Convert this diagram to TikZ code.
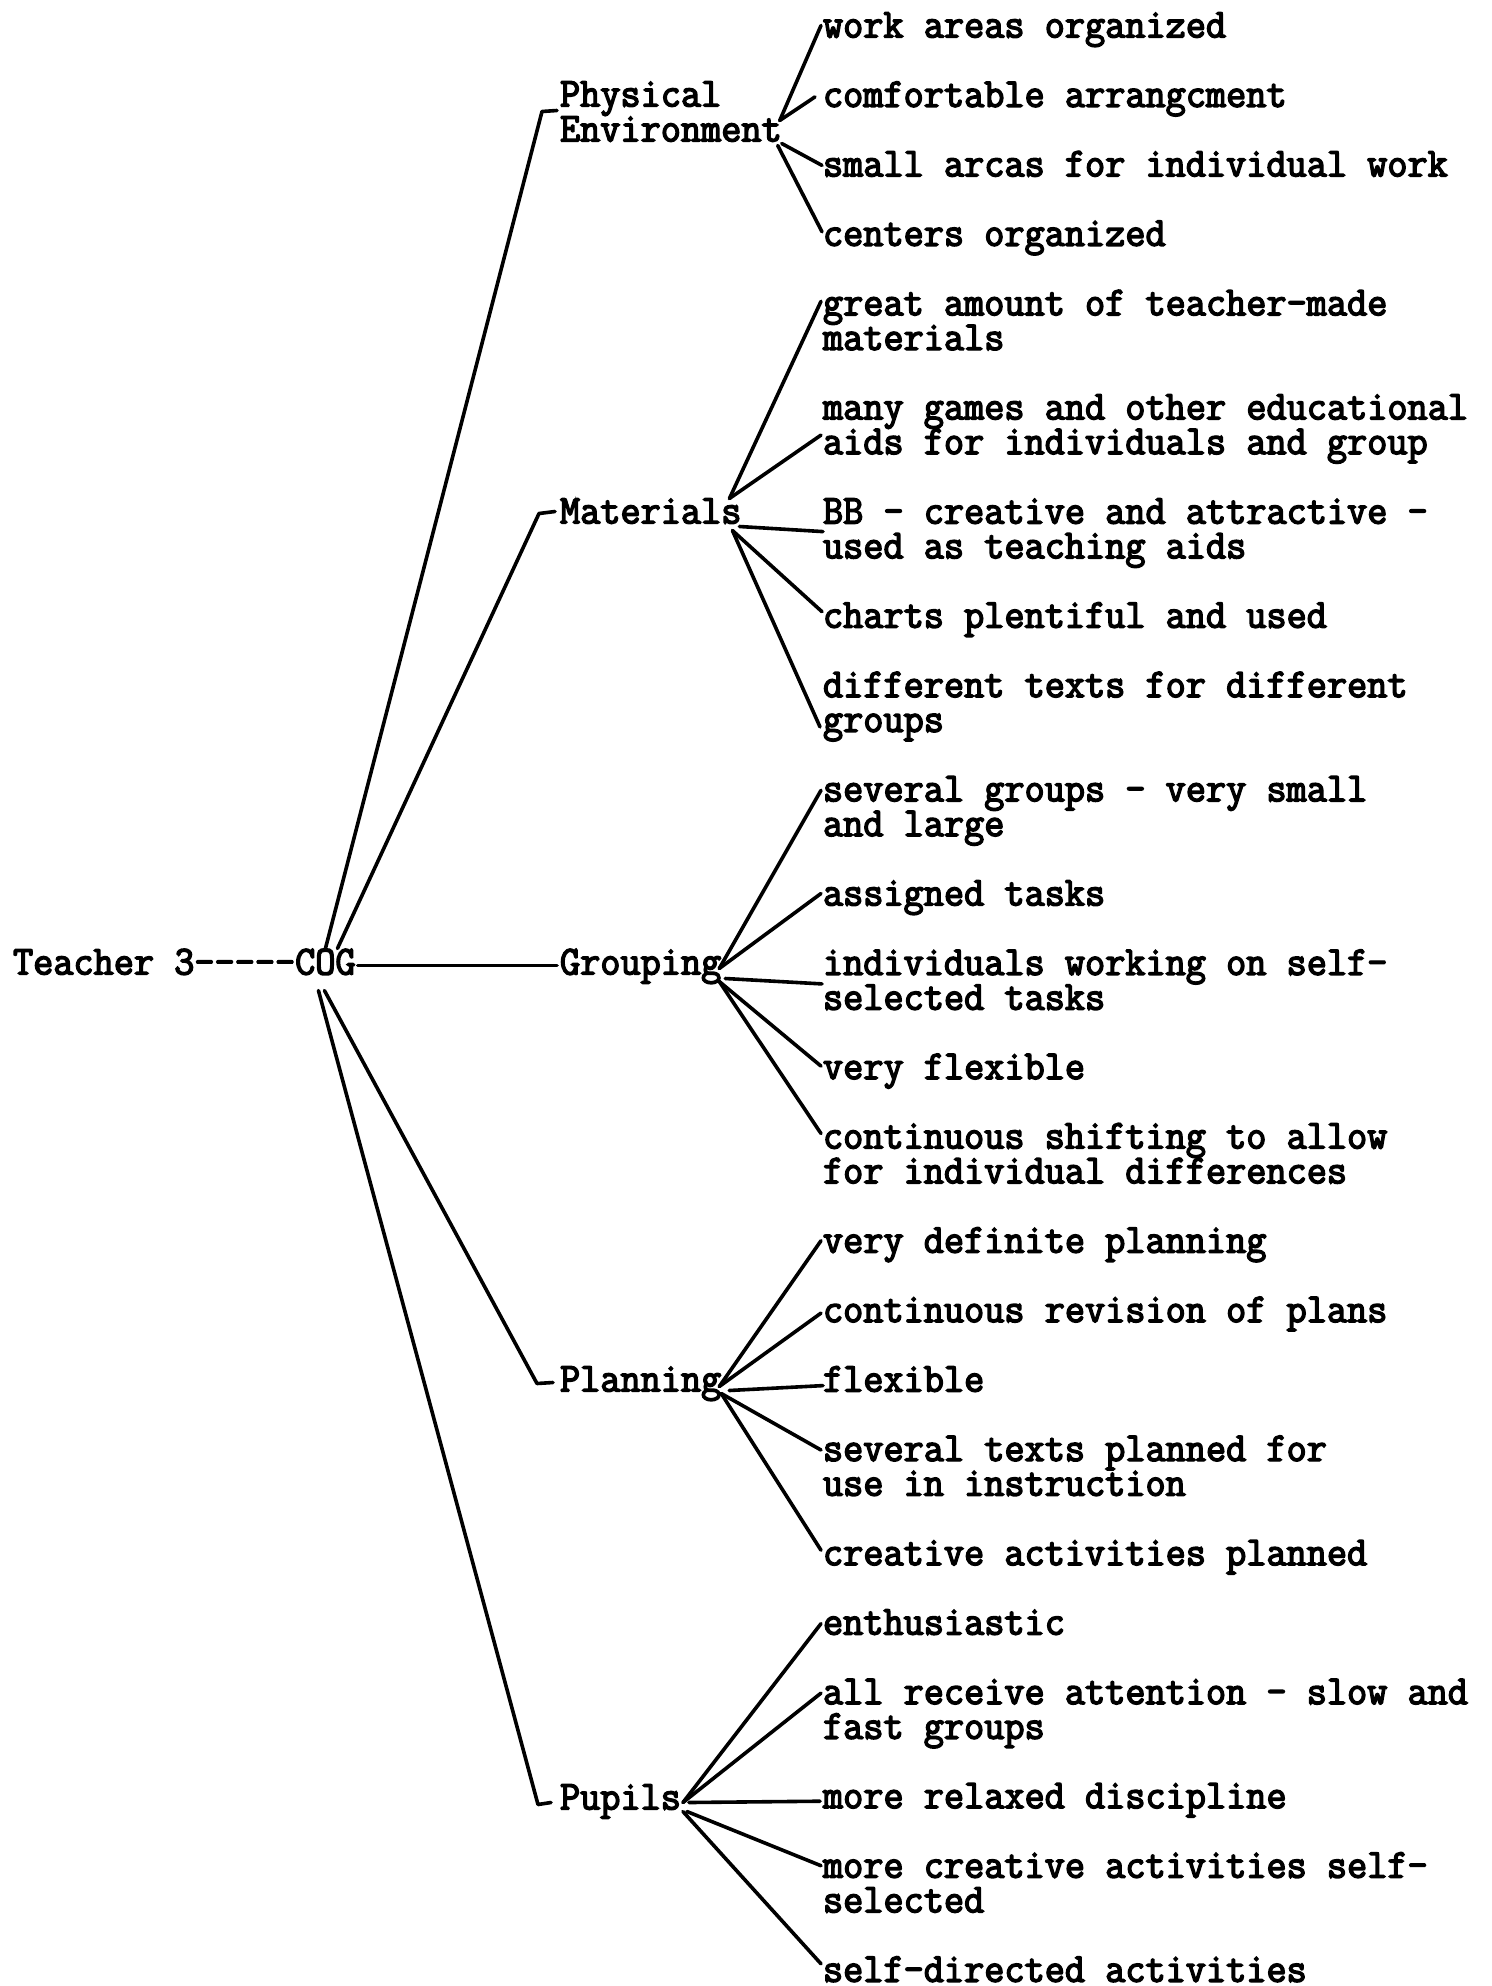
\documentclass[tikz,border=0pt]{standalone}
\usepackage{fontspec}
\newfontfamily\tw[FakeStretch=0.95,FakeBold=3.5,Ligatures=TeXOff]{Latin Modern Mono}
\usetikzlibrary{calc}
\tikzset{
  lbl/.style={inner sep=0pt, outer sep=0pt, anchor=base west,
    font=\tw\fontsize{41.2}{34.72}\selectfont},
  ln/.style={line width=3.6pt, line cap=round, line join=round},
}
\begin{document}
\begin{tikzpicture}[x=1pt,y=-1pt]
\useasboundingbox (0,0) rectangle (1491,1986);
\fill[white] (0,0) rectangle (1491,1986);
\begin{scope}[yshift=-2.5pt]
% root
\node[lbl] (teacher) at (13,972) {Teacher 3-----};
\node[lbl] (cog) at (teacher.base east) {COG};
% categories
\node[lbl] (phys1) at (560,104) {Physical};
\node[lbl] (phys2) at (560,139) {Environment};
\node[lbl] (mat) at (560,521) {Materials};
\node[lbl] (grp) at (560,972) {Grouping};
\node[lbl] (pln) at (560,1389) {Planning};
\node[lbl] (pup) at (560,1807) {Pupils};
% items
\node[lbl] (i1) at (823,35) {work areas organized};
\node[lbl] (i2) at (823,104.4) {comfortable arrangcment};
\node[lbl] (i3) at (823,173.9) {small arcas for individual work};
\node[lbl] (i4) at (823,243.3) {centers organized};
\node[lbl] (i5a) at (823,312.8) {great amount of teacher-made};
\node[lbl] (i5b) at (823,347.5) {materials};
\node[lbl] (i6a) at (823,416.9) {many games and other educational};
\node[lbl] (i6b) at (823,451.6) {aids for individuals and group};
\node[lbl] (i7a) at (823,521.1) {BB - creative and attractive -};
\node[lbl] (i7b) at (823,555.8) {used as teaching aids};
\node[lbl] (i8) at (823,625.2) {charts plentiful and used};
\node[lbl] (i9a) at (823,694.7) {different texts for different};
\node[lbl] (i9b) at (823,729.4) {groups};
\node[lbl] (i10a) at (823,798.8) {several groups - very small};
\node[lbl] (i10b) at (823,833.6) {and large};
\node[lbl] (i11) at (823,903.0) {assigned tasks};
\node[lbl] (i12a) at (823,972.4) {individuals working on self-};
\node[lbl] (i12b) at (823,1007.2) {selected tasks};
\node[lbl] (i13) at (823,1076.6) {very flexible};
\node[lbl] (i14a) at (823,1146.0) {continuous shifting to allow};
\node[lbl] (i14b) at (823,1180.8) {for individual differences};
\node[lbl] (i15) at (823,1250.2) {very definite planning};
\node[lbl] (i16) at (823,1319.6) {continuous revision of plans};
\node[lbl] (i17) at (823,1389.1) {flexible};
\node[lbl] (i18a) at (823,1458.5) {several texts planned for};
\node[lbl] (i18b) at (823,1493.2) {use in instruction};
\node[lbl] (i19) at (823,1562.7) {creative activities planned};
\node[lbl] (i20) at (823,1632.1) {enthusiastic};
\node[lbl] (i21a) at (823,1701.6) {all receive attention - slow and};
\node[lbl] (i21b) at (823,1736.3) {fast groups};
\node[lbl] (i22) at (823,1805.7) {more relaxed discipline};
\node[lbl] (i23a) at (823,1875.2) {more creative activities self-};
\node[lbl] (i23b) at (823,1909.9) {selected};
\node[lbl] (i24) at (823,1979.3) {self-directed activities};
% COG to categories
\draw[ln] ($(cog.base)+(0,-26)$) -- ($(phys1.base west)+(-18,5)$) -- ($(phys1.base west)+(-3,4)$);
\draw[ln] ($(cog.base)+(12,-26)$) -- ($(mat.base west)+(-21,-10)$) -- ($(mat.base west)+(-5,-12)$);
\draw[ln] ($(cog.base east)+(2,-9)$) -- ($(grp.base west)+(-3,-9)$);
\draw[ln] ($(cog.base)+(-1,16)$) -- ($(pln.base west)+(-23,-8)$) -- ($(pln.base west)+(-7,-9)$);
\draw[ln] ($(cog.base)+(-7,16)$) -- ($(pup.base west)+(-22,-5)$) -- ($(pup.base west)+(-9,-7)$);
% Physical environment fan
\draw[ln] ($(phys2.base east)+(-2,-21)$) -- ($(i1.base west)+(-2,-12)$);
\draw[ln] ($(phys2.base east)+(-2,-21)$) -- ($(i2.base west)+(-8,-10)$);
\draw[ln] ($(phys2.base east)+(0,2)$) -- ($(i3.base west)+(-1,-11)$);
\draw[ln] ($(phys2.base east)+(-4,4)$) -- ($(i4.base west)+(-1,-14)$);
% Materials fan
\draw[ln] ($(mat.base east)+(-12,-25)$) -- ($(i5a.base west)+(-2,-14)$);
\draw[ln] ($(mat.base east)+(-12,-25)$) -- ($(i6b.base west)+(-2,-19)$);
\draw[ln] ($(mat.base east)+(-2,3)$) -- ($(i7a.base west)+(0,8)$);
\draw[ln] ($(mat.base east)+(-9,7)$) -- ($(i8.base west)+(-1,-16)$);
\draw[ln] ($(mat.base east)+(-9,7)$) -- ($(i9b.base west)+(-3,-5)$);
% Grouping fan
\draw[ln] ($(grp.base east)+(-2,-6)$) -- ($(i10a.base west)+(-2,-11)$);
\draw[ln] ($(grp.base east)+(-2,-6)$) -- ($(i11.base west)+(-2,-12)$);
\draw[ln] ($(grp.base east)+(4,4)$) -- ($(i12a.base west)+(-1,9)$);
\draw[ln] ($(grp.base east)+(-2,7)$) -- ($(i13.base west)+(-2,-13)$);
\draw[ln] ($(grp.base east)+(-2,7)$) -- ($(i14a.base west)+(-2,-15)$);
% Planning fan
\draw[ln] ($(pln.base east)+(-2,-5)$) -- ($(i15.base west)+(-2,-12)$);
\draw[ln] ($(pln.base east)+(-2,-5)$) -- ($(i16.base west)+(-2,-9)$);
\draw[ln] ($(pln.base east)+(8,-1)$) -- ($(i17.base west)+(0,-6)$);
\draw[ln] ($(pln.base east)+(0,2)$) -- ($(i18a.base west)+(-2,-11)$);
\draw[ln] ($(pln.base east)+(0,2)$) -- ($(i19.base west)+(-2,-15)$);
% Pupils fan
\draw[ln] ($(pup.base east)+(2,-7)$) -- ($(i20.base west)+(-2,-11)$);
\draw[ln] ($(pup.base east)+(2,-7)$) -- ($(i21a.base west)+(-2,-11)$);
\draw[ln] ($(pup.base east)+(8,-7)$) -- ($(i22.base west)+(-3,-7)$);
\draw[ln] ($(pup.base east)+(6,2)$) -- ($(i23a.base west)+(-2,-12)$);
\draw[ln] ($(pup.base east)+(2,2)$) -- ($(i24.base west)+(-2,-18)$);
\end{scope}
\end{tikzpicture}
\end{document}
